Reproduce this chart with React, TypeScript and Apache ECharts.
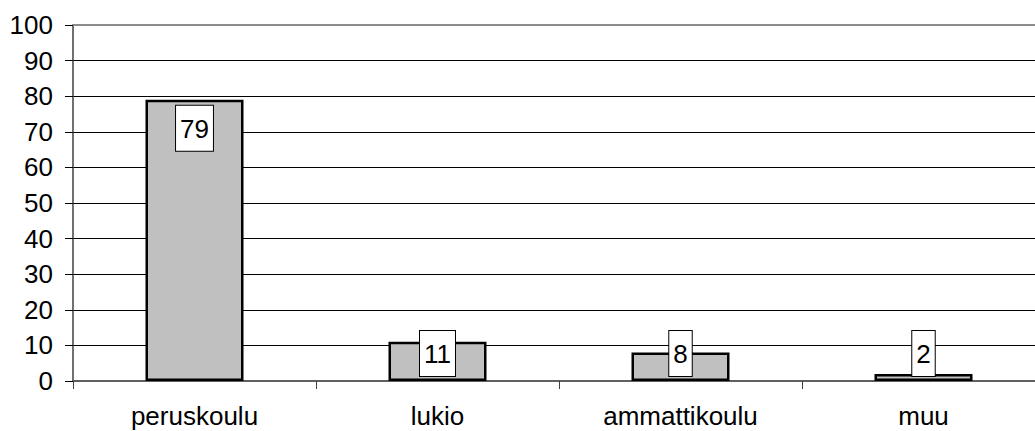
import React, { useEffect, useRef } from "react";
import * as echarts from "echarts";

const categories = ["peruskoulu", "lukio", "ammattikoulu", "muu"];
const values = [79, 11, 8, 2];
const yMin = 0;
const yMax = 100;
const yStep = 10;

export default function App() {
  const ref = useRef<HTMLDivElement>(null);
  useEffect(() => {
    if (!ref.current) return;
    const chart = echarts.init(ref.current, undefined, { renderer: "svg" });
    const font = "'Liberation Sans', Arial, sans-serif";
    chart.setOption({
      animation: false,
      backgroundColor: "#ffffff",
      grid: { left: 73, top: 25, bottom: 50, width: 972, outerBoundsMode: "none", containLabel: false },
      xAxis: [
        {
          type: "category",
          data: categories,
          axisLine: { show: true, lineStyle: { color: "#606060", width: 2 } },
          axisTick: { show: true, length: 8, lineStyle: { color: "#404040", width: 1 } },
          axisLabel: { color: "#000", fontSize: 26, fontFamily: font, margin: 22 },
          splitLine: { show: false },
        },
        {
          type: "category",
          data: categories,
          position: "top",
          axisLine: { show: true, lineStyle: { color: "#8c8c8c", width: 2 } },
          axisTick: { show: false },
          axisLabel: { show: false },
        },
      ],
      yAxis: {
        type: "value",
        min: yMin,
        max: yMax,
        interval: yStep,
        axisLine: { show: true, lineStyle: { color: "#404040", width: 1.5 } },
        axisTick: { show: true, length: 8, lineStyle: { color: "#000", width: 1 } },
        axisLabel: { color: "#000", fontSize: 26, fontFamily: font, margin: 20 },
        splitLine: { show: true, lineStyle: { color: "#000", width: 1 } },
      },
      series: [
        {
          type: "bar",
          xAxisIndex: 0,
          barWidth: 98,
          itemStyle: { color: "#c0c0c0", borderColor: "#000", borderWidth: 2.5 },
          label: {
            show: true,
            distance: 6,
            color: "#000",
            fontSize: 26,
            lineHeight: 26,
            fontFamily: font,
            backgroundColor: "#fff",
            borderColor: "#000",
            borderWidth: 1,
            padding: [10, 4, 9, 4],
          },
          data: values.map((v) => ({
            value: v,
            label: { position: v >= 20 ? "insideTop" : "insideBottom", distance: v >= 20 ? 6 : 5 },
          })),
        },
      ],
    });
    return () => chart.dispose();
  }, []);
  return <div ref={ref} style={{ width: 1035, height: 431, position: "absolute", left: 0, top: 0 }} />;
}
